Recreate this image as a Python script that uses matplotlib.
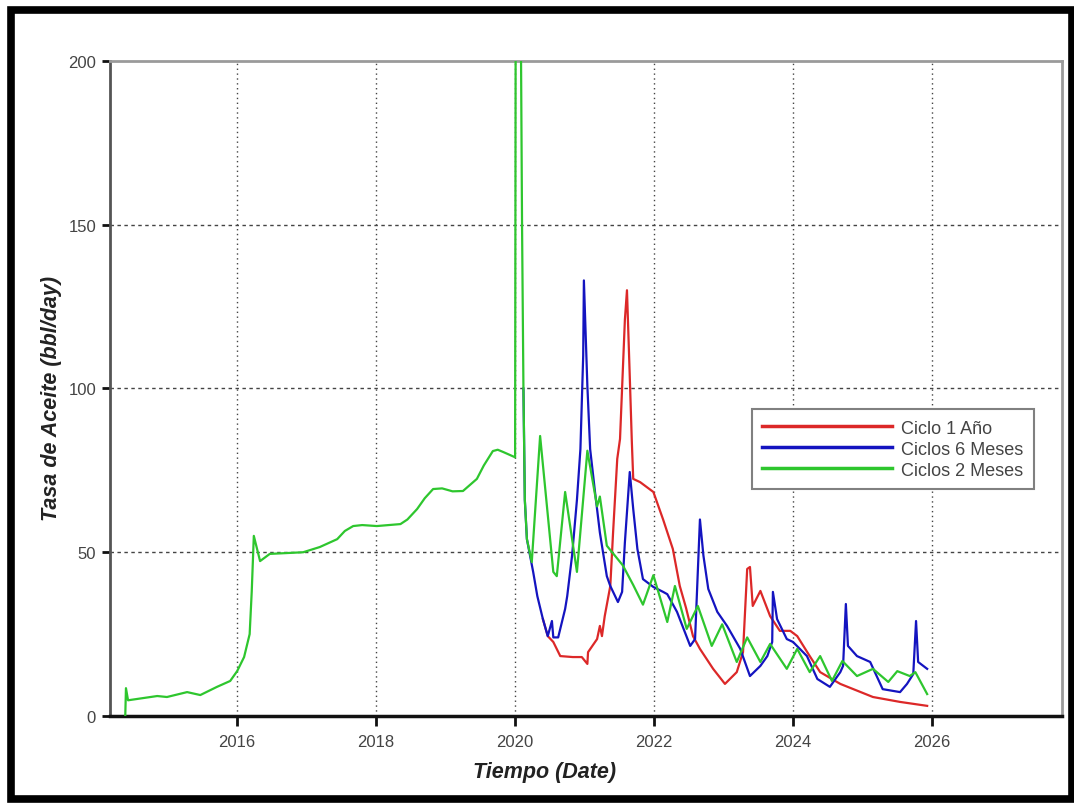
import matplotlib.pyplot as plt
from matplotlib.patches import Rectangle

plt.rcParams['font.family'] = ['Liberation Sans', 'DejaVu Sans']

# Ciclos 2 Meses (full history)
green_t = [2014.39, 2014.40, 2014.43, 2014.85, 2014.99, 2015.28, 2015.47, 2015.71, 2015.90,
           2016.00, 2016.10, 2016.18, 2016.21, 2016.24, 2016.33, 2016.47, 2016.95, 2017.19,
           2017.44, 2017.55, 2017.67, 2017.80, 2018.01, 2018.35, 2018.45, 2018.59, 2018.70,
           2018.82, 2018.95, 2019.10, 2019.25, 2019.45, 2019.55, 2019.68, 2019.75,
           2019.83, 2020.00, 2020.01, 2020.08, 2020.10, 2020.12, 2020.14, 2020.17, 2020.21,
           2020.24, 2020.36, 2020.55, 2020.60, 2020.72, 2020.89, 2021.04, 2021.18, 2021.22,
           2021.32, 2021.55, 2021.70, 2021.84, 2021.99, 2022.19, 2022.30, 2022.47, 2022.63,
           2022.83, 2022.98, 2023.19, 2023.34, 2023.53, 2023.67, 2023.91, 2024.06, 2024.24,
           2024.39, 2024.56, 2024.71, 2024.92, 2025.15, 2025.37, 2025.50, 2025.68, 2025.76,
           2025.93]
green_q = [0.0, 8.5, 4.8, 6.1, 5.8, 7.3, 6.4, 8.9, 10.7,
           13.7, 18.0, 25.0, 38.0, 55.0, 47.3, 49.5, 50.0, 51.6,
           54.0, 56.5, 58.0, 58.3, 58.0, 58.6, 60.0, 63.2, 66.5,
           69.3, 69.5, 68.6, 68.7, 72.4, 76.5, 80.9, 81.3,
           80.6, 79.0, 240.0, 220.0, 150.0, 100.0, 66.0, 54.0, 50.0,
           47.0, 85.5, 44.0, 42.7, 68.4, 44.0, 81.0, 64.0, 67.0,
           52.0, 46.0, 40.0, 34.0, 43.0, 28.7, 39.7, 26.6, 33.6,
           21.4, 28.0, 16.5, 24.0, 16.5, 22.0, 14.4, 20.5, 13.4,
           18.3, 10.7, 16.8, 12.2, 14.4, 10.4, 13.7, 12.2, 13.4,
           6.7]

# Ciclos 6 Meses
blue_t = [2020.12, 2020.14, 2020.17, 2020.26, 2020.32, 2020.40, 2020.47, 2020.53, 2020.55,
          2020.62, 2020.72, 2020.75, 2020.82, 2020.89, 2020.94, 2020.98, 2020.99, 2021.04,
          2021.08, 2021.15, 2021.22, 2021.32, 2021.37, 2021.48, 2021.54, 2021.58, 2021.65,
          2021.70, 2021.76, 2021.84, 2021.99, 2022.13, 2022.19, 2022.33, 2022.52, 2022.59,
          2022.66, 2022.71, 2022.78, 2022.91, 2023.05, 2023.24, 2023.38, 2023.53, 2023.63,
          2023.70, 2023.71, 2023.77, 2023.91, 2024.00, 2024.20, 2024.35, 2024.53, 2024.68,
          2024.72, 2024.76, 2024.79, 2024.92, 2025.11, 2025.29, 2025.54, 2025.64, 2025.73,
          2025.77, 2025.80, 2025.93]
blue_q = [100.0, 66.0, 54.0, 44.0, 36.6, 29.6, 24.4, 29.0, 24.0,
          24.0, 32.7, 36.6, 49.0, 66.0, 81.5, 110.0, 133.0, 100.8,
          81.5, 68.4, 56.0, 42.7, 39.7, 34.8, 37.9, 53.0, 74.5,
          63.2, 51.0, 41.8, 39.4, 37.9, 37.2, 31.8, 21.4, 23.5,
          60.0, 49.0, 38.8, 31.8, 27.5, 20.5, 12.2, 15.3, 18.3,
          22.6, 37.9, 29.6, 23.5, 22.6, 18.3, 11.3, 8.9, 13.4,
          15.3, 34.2, 21.4, 18.3, 16.5, 8.2, 7.3, 9.8, 12.8,
          29.0, 16.5, 14.4]

# Ciclo 1 Año
red_t = [2020.40, 2020.47, 2020.55, 2020.65, 2020.83, 2020.96, 2021.04, 2021.05, 2021.18,
         2021.22, 2021.25, 2021.29, 2021.37, 2021.41, 2021.47, 2021.51, 2021.58, 2021.61,
         2021.65, 2021.68, 2021.70, 2021.80, 2021.99, 2022.13, 2022.27, 2022.37, 2022.46,
         2022.56, 2022.66, 2022.85, 2023.02, 2023.19, 2023.28, 2023.34, 2023.38, 2023.42,
         2023.53, 2023.67, 2023.81, 2023.96, 2024.06, 2024.24, 2024.39, 2024.68, 2025.15,
         2025.54, 2025.93]
red_q = [29.6, 24.4, 22.6, 18.3, 18.0, 18.0, 15.9, 19.5, 23.5,
         27.5, 24.4, 30.5, 39.7, 56.0, 78.5, 84.6, 121.0, 130.0,
         103.8, 83.7, 72.4, 71.4, 68.4, 60.0, 51.0, 39.7, 33.0,
         24.4, 20.5, 14.4, 9.8, 13.4, 19.5, 44.9, 45.5, 33.6,
         38.2, 30.5, 26.0, 26.0, 24.4, 18.3, 13.4, 9.8, 5.8,
         4.3, 3.1]

year_ticks = [2016, 2018, 2020, 2022, 2024, 2026]
rate_ticks = [0, 50, 100, 150, 200]

fig = plt.figure(figsize=(10.74, 8.04), dpi=100)
ax = fig.add_axes([0.1024, 0.1082, 0.8864, 0.8147])

ax.plot(red_t, red_q, color='#dc2828', lw=1.6, label='Ciclo 1 Año', zorder=3)
ax.plot(blue_t, blue_q, color='#1414c0', lw=1.6, label='Ciclos 6 Meses', zorder=4)
ax.plot(green_t, green_q, color='#2ec62e', lw=1.6, label='Ciclos 2 Meses', zorder=5)

ax.set_xlim(2014.17, 2027.87)
ax.set_ylim(0, 200)
ax.set_xticks(year_ticks)
ax.set_yticks(rate_ticks)

# grid: dotted verticals, dashed horizontals
for yr in year_ticks:
    ax.axvline(yr, color='#444444', lw=1, ls=(0, (1, 2.5)), zorder=1)
for r in rate_ticks[1:-1]:
    ax.axhline(r, color='#444444', lw=1, ls=(0, (2.5, 2.5)), zorder=1)

ax.spines['left'].set_color('#555555')
ax.spines['left'].set_linewidth(2)
ax.spines['bottom'].set_color('#111111')
ax.spines['bottom'].set_linewidth(2.5)
ax.spines['top'].set_color('#9a9a9a')
ax.spines['top'].set_linewidth(2)
ax.spines['right'].set_color('#9a9a9a')
ax.spines['right'].set_linewidth(2)

ax.tick_params(axis='x', direction='out', length=7, width=2, color='#111111',
               labelsize=12, labelcolor='#444444', pad=6)
ax.tick_params(axis='y', direction='out', length=6, width=2, color='#111111',
               labelsize=12, labelcolor='#444444', pad=4)

ax.set_xlabel('Tiempo (Date)', fontsize=15.5, fontweight='bold', fontstyle='italic',
              color='#222222')
ax.set_ylabel('Tasa de Aceite (bbl/day)', fontsize=15.5, fontweight='bold',
              fontstyle='italic', color='#222222')
ax.xaxis.set_label_coords(0.456, -0.069)
ax.yaxis.set_label_coords(-0.05, 0.487)

leg = ax.legend(loc='upper left', bbox_to_anchor=(0.674, 0.469), borderaxespad=0,
                fontsize=13, handlelength=7.2, handletextpad=0.45, labelspacing=0.22,
                borderpad=0.6, fancybox=False, framealpha=1, edgecolor='#808080')
leg.get_frame().set_linewidth(1.5)
for txt in leg.get_texts():
    txt.set_color('#444444')
for line in leg.get_lines():
    line.set_linewidth(2.5)

# heavy black border round the whole figure
fig.patches.append(Rectangle((0.0107, 0.005), 0.9873, 0.9813, transform=fig.transFigure,
                             fill=False, edgecolor='black', lw=5.5))

fig.savefig('out.png', dpi=100)
